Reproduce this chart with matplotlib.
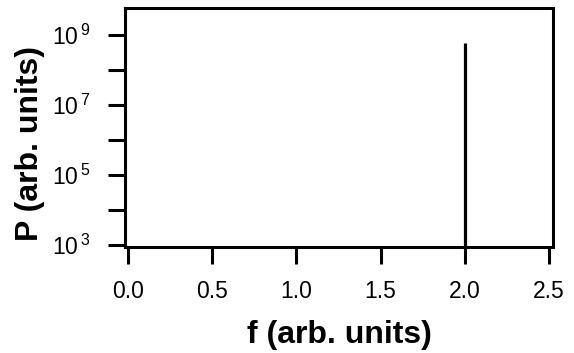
import numpy as np
import matplotlib
matplotlib.use("Agg")
import matplotlib.pyplot as plt
from matplotlib.ticker import FixedLocator, FuncFormatter, NullLocator

# spectrum: a single sharp line
freq = [2.0]
power = [6.0e8]
floor = 8.7e2

x_ticks = [0.0, 0.5, 1.0, 1.5, 2.0, 2.5]
y_decades = [3, 4, 5, 6, 7, 8, 9]

plt.rcParams['font.family'] = ['Liberation Sans', 'DejaVu Sans']
plt.rcParams['mathtext.fontset'] = 'custom'
plt.rcParams['mathtext.rm'] = 'Liberation Sans'

fig = plt.figure(figsize=(5.74, 3.53), dpi=100)
ax = fig.add_axes([125 / 574, 1 - 247 / 353, 428 / 574, 239 / 353])

ax.vlines(freq, floor, power, color='black', linewidth=2.3)

ax.set_yscale('log')
ax.set_xlim(-0.018, 2.524)
ax.set_ylim(10 ** 2.94, 10 ** 9.77)

ax.xaxis.set_major_locator(FixedLocator(x_ticks))
ax.xaxis.set_major_formatter(FuncFormatter(lambda v, p: f"{v:.1f}"))
ax.yaxis.set_major_locator(FixedLocator([10.0 ** d for d in y_decades]))
ax.yaxis.set_minor_locator(NullLocator())


def ylab(v, p):
    d = int(round(np.log10(v)))
    return r"$\mathregular{10^{\,%d}}$" % d if d % 2 == 1 else ""


ax.yaxis.set_major_formatter(FuncFormatter(ylab))

for s in ax.spines.values():
    s.set_linewidth(2.2)
ax.tick_params(axis='both', which='major', direction='out', length=12, width=2.2,
               labelsize=16.5, pad=12)
ax.tick_params(axis='y', pad=13)

ax.set_xlabel("f (arb. units)", fontsize=23, fontweight='bold', labelpad=12)
ax.set_ylabel("P (arb. units)", fontsize=23, fontweight='bold')
ax.yaxis.set_label_coords(-0.188, 0.435)

fig.savefig("out.png", dpi=100)
